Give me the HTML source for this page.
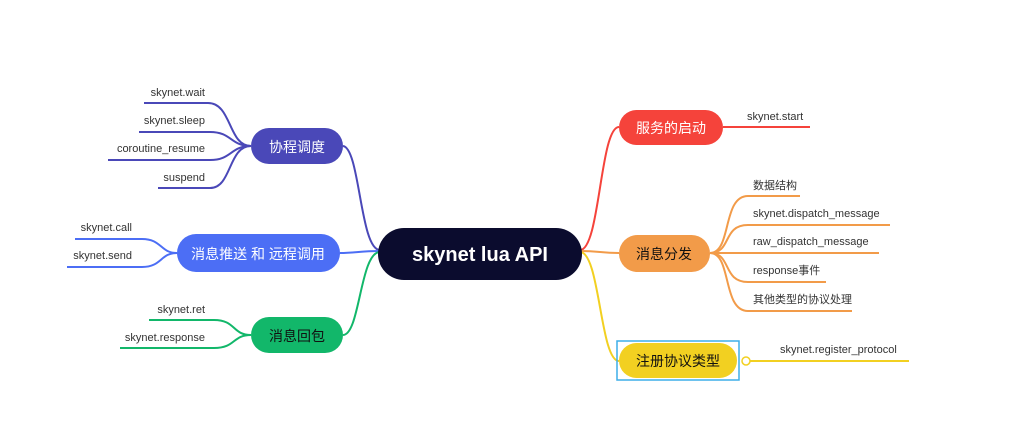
<!DOCTYPE html>
<html><head><meta charset="utf-8"><style>
html,body{margin:0;padding:0;background:#fff;}
svg{display:block;font-family:"Liberation Sans","Noto Sans CJK SC",sans-serif;}
</style></head><body>
<svg width="1024" height="442" viewBox="0 0 1024 442" xmlns="http://www.w3.org/2000/svg">
<g fill="none" stroke-width="2">
<path d="M380 250 C360 250,360 148,343 146" stroke="#4a48b8"/>
<path d="M380 251 C360 251,355 253,340 253" stroke="#4c6ef5"/>
<path d="M380 252 C360 252,360 335,343 335" stroke="#12b76a"/>
<path d="M580 250 C600 250,600 127,619 127" stroke="#f5433b"/>
<path d="M580 251 C600 251,600 253,619 253" stroke="#f29b49"/>
<path d="M580 252 C600 252,600 361,619 361" stroke="#f2d021"/>
<g stroke="#4a48b8">
<path d="M144 103 H208 C232 103,228 146,251 146"/>
<path d="M139 132 H210 C232 132,230 146,251 146"/>
<path d="M108 160 H210 C232 160,230 146,251 146"/>
<path d="M158 188 H210 C232 188,228 146,251 146"/>
</g>
<g stroke="#4c6ef5">
<path d="M75 239 H142 C162 239,160 253,177 253"/>
<path d="M67 267 H142 C162 267,160 253,177 253"/>
</g>
<g stroke="#12b76a">
<path d="M149 320 H214 C236 320,232 335,251 335"/>
<path d="M120 348 H214 C236 348,232 335,251 335"/>
</g>
<path d="M723 127 H810" stroke="#f5433b"/>
<g stroke="#f29b49">
<path d="M710 253 C732 253,722 196,748 196 H800"/>
<path d="M710 253 C732 253,722 225,748 225 H890"/>
<path d="M710 253 H879"/>
<path d="M710 253 C732 253,722 282,748 282 H826"/>
<path d="M710 253 C732 253,722 311,748 311 H852"/>
</g>
<path d="M750 361 H909" stroke="#f2d021"/>
<circle cx="746" cy="361" r="4" stroke="#f2d021" stroke-width="1.5" fill="#fff"/>
</g>
<rect x="378" y="228" width="204" height="52" rx="26" fill="#0b0c2e"/>
<text x="480" y="261" fill="#fff" font-size="20" font-weight="bold" text-anchor="middle">skynet lua API</text>
<rect x="251" y="128" width="92" height="36" rx="18" fill="#4a48b8"/>
<text x="297" y="152" fill="#fff" font-size="14" text-anchor="middle">协程调度</text>
<rect x="177" y="234" width="163" height="38" rx="19" fill="#4c6ef5"/>
<text x="258" y="259" fill="#fff" font-size="14" text-anchor="middle">消息推送 和 远程调用</text>
<rect x="251" y="317" width="92" height="36" rx="18" fill="#12b76a"/>
<text x="297" y="341" fill="#111" font-size="14" text-anchor="middle">消息回包</text>
<rect x="619" y="110" width="104" height="35" rx="17.5" fill="#f5433b"/>
<text x="671" y="133" fill="#fff" font-size="14" text-anchor="middle">服务的启动</text>
<rect x="619" y="235" width="91" height="37" rx="18.5" fill="#f29b49"/>
<text x="664" y="259" fill="#111" font-size="14" text-anchor="middle">消息分发</text>
<rect x="617" y="341" width="122" height="39" fill="none" stroke="#3daee9" stroke-width="1.5"/>
<rect x="619" y="343" width="118" height="35" rx="17.5" fill="#f2d021"/>
<text x="678" y="366" fill="#111" font-size="14" text-anchor="middle">注册协议类型</text>
<g font-size="11" fill="#333">
<text x="205" y="96" text-anchor="end">skynet.wait</text>
<text x="205" y="124" text-anchor="end">skynet.sleep</text>
<text x="205" y="152" text-anchor="end">coroutine_resume</text>
<text x="205" y="181" text-anchor="end">suspend</text>
<text x="132" y="231" text-anchor="end">skynet.call</text>
<text x="132" y="259" text-anchor="end">skynet.send</text>
<text x="205" y="313" text-anchor="end">skynet.ret</text>
<text x="205" y="341" text-anchor="end">skynet.response</text>
<text x="747" y="120">skynet.start</text>
<text x="753" y="189">数据结构</text>
<text x="753" y="217">skynet.dispatch_message</text>
<text x="753" y="245">raw_dispatch_message</text>
<text x="753" y="274">response事件</text>
<text x="753" y="303">其他类型的协议处理</text>
<text x="780" y="353">skynet.register_protocol</text>
</g>
</svg>
</body></html>
